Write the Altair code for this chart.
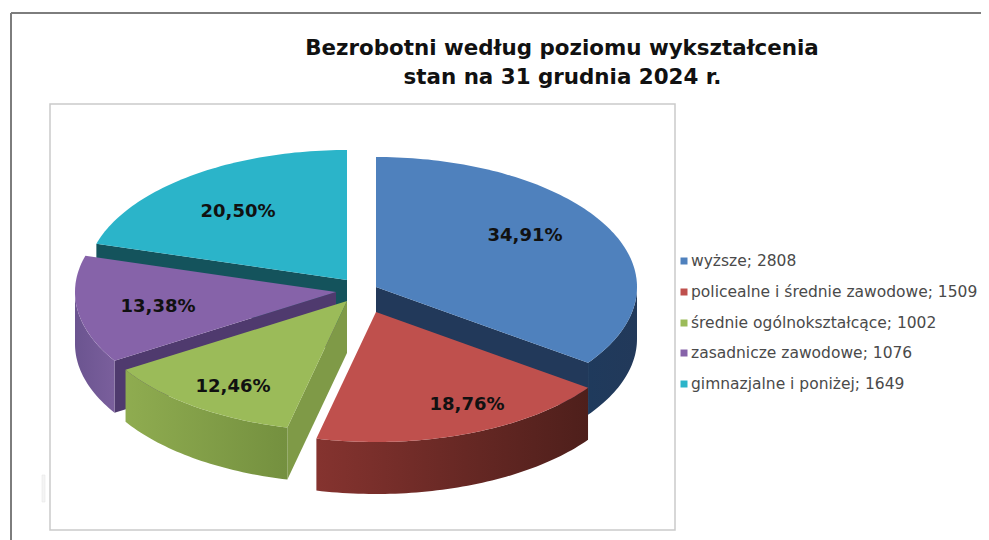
import math
import altair as alt
import pandas as pd

# --- data
categories = ["wyższe", "policealne i średnie zawodowe", "średnie ogólnokształcące",
              "zasadnicze zawodowe", "gimnazjalne i poniżej"]
values = [2808, 1509, 1002, 1076, 1649]

# --- styling / layout
top_colors = ["#4f81bd", "#bf504d", "#9bbb59", "#8663a9", "#2bb4c9"]
cut_colors = ["#22395a", "#5a2320", "#7f9a47", "#4f3a6e", "#14535c"]
wall_stops = [("#1f3a5c", "#22395a"), ("#85332f", "#4e1f1b"), ("#8fac50", "#74903f"),
              ("#6b5490", "#7a5f9c"), ("#1f8a9a", "#1f8a9a")]
cut_edge = [1, None, 0, 0, 0]   # which edge of the slice shows its cut face
centers = [(376, 287), (376, 312), (347, 301), (336, 292), (347, 280)]
label_pos = [(525, 236), (467, 405), (233, 387), (158, 307), (238, 212)]
draw_order = [4, 0, 3, 2, 1]
RX, RY, DEPTH = 261, 130, 52
W, H = 973, 532
xs = alt.Scale(domain=[8, 8 + W], nice=False, zero=False)
ys = alt.Scale(domain=[8, 8 + H], nice=False, zero=False, reverse=True)

X = lambda f="x": alt.X(f"{f}:Q", scale=xs, axis=None)
Y = lambda f="y": alt.Y(f"{f}:Q", scale=ys, axis=None)

total = sum(values)
bounds = [0.0]
for v in values:
    bounds.append(bounds[-1] + v / total * 2 * math.pi)


def rim(c, a):
    return (c[0] + RX * math.sin(a), c[1] - RY * math.cos(a))


def arc(c, a0, a1):
    n = max(2, int(abs(a1 - a0) / 0.02))
    return [rim(c, a0 + (a1 - a0) * k / n) for k in range(n + 1)]


def poly(pts, fill):
    pts = list(pts) + [pts[0]]
    df = pd.DataFrame({"x": [p[0] for p in pts], "y": [p[1] for p in pts], "i": range(len(pts))})
    return alt.Chart(df).mark_line(fill=fill, strokeWidth=0, strokeOpacity=0, interpolate="linear").encode(
        x=X(), y=Y(), order="i:Q")


def down(pts):
    return [(x, y + DEPTH) for x, y in pts]


layers = []
# outer frame
frame = pd.DataFrame({"x": [11, 11], "y": [13, 13], "x2": [981, 11], "y2": [13, 540]})
layers.append(alt.Chart(frame).mark_rule(color="#7d7d7d", strokeWidth=2).encode(
    x=X(), y=Y(), x2="x2:Q", y2="y2:Q"))
# inner frame
inner = pd.DataFrame({"x": [50], "y": [104], "x2": [675], "y2": [530]})
layers.append(alt.Chart(inner).mark_rect(fill="#ffffff", stroke="#cacaca", strokeWidth=1.5).encode(
    x=X(), y=Y(), x2="x2:Q", y2="y2:Q"))
smudge = pd.DataFrame({"x": [42], "y": [475], "x2": [45], "y2": [502]})
layers.append(alt.Chart(smudge).mark_rect(fill="#f4f4f4", stroke="#e8e8e8", strokeWidth=0.6).encode(
    x=X(), y=Y(), x2="x2:Q", y2="y2:Q"))

for s in draw_order:
    c = centers[s]
    a0, a1 = bounds[s], bounds[s + 1]
    # cut face of the slice, where it faces the viewer
    if cut_edge[s] is not None:
        e = rim(c, bounds[s + cut_edge[s]])
        layers.append(poly([c, e, (e[0], e[1] + DEPTH), (c[0], c[1] + DEPTH)], cut_colors[s]))
    # outer wall: part of the rim facing the viewer
    lo, hi = max(a0, math.pi / 2), min(a1, 3 * math.pi / 2)
    if hi > lo:
        pts = arc(c, lo, hi)
        grad = alt.LinearGradient(
            gradient="linear", x1=0, x2=1, y1=0, y2=0,
            stops=[alt.GradientStop(color=wall_stops[s][0], offset=0),
                   alt.GradientStop(color=wall_stops[s][1], offset=1)])
        layers.append(poly(pts + down(pts)[::-1], grad))
    # top face
    layers.append(poly([c] + arc(c, a0, a1), top_colors[s]))

# percentage labels
pct = [f"{v / total * 100:.2f}".replace(".", ",") + "%" for v in values]
labels = pd.DataFrame({"x": [p[0] for p in label_pos], "y": [p[1] for p in label_pos], "t": pct})
layers.append(alt.Chart(labels).mark_text(font="DejaVu Sans", fontWeight="bold", fontSize=18,
                                          color="#111111", align="center", baseline="middle").encode(
    x=X(), y=Y(), text="t:N"))

# title
title_lines = ["Bezrobotni według poziomu wykształcenia", "stan na 31 grudnia 2024 r."]
title = pd.DataFrame({"x": [562, 562.5], "y": [49, 78], "t": title_lines})
layers.append(alt.Chart(title).mark_text(font="DejaVu Sans", fontWeight="bold", fontSize=21.4,
                                         color="#111111", align="center", baseline="middle").encode(
    x=X(), y=Y(), text="t:N"))

# legend
leg_y = [261, 292, 323, 353, 384]
leg = pd.DataFrame({"x": [691] * 5, "sx": [684] * 5, "y": leg_y,
                    "t": [f"{c}; {v}" for c, v in zip(categories, values)],
                    "col": top_colors})
layers.append(alt.Chart(leg).mark_square(size=49, opacity=1).encode(
    x=X("sx"), y=Y(), color=alt.Color("col:N", scale=None, legend=None)))
layers.append(alt.Chart(leg).mark_text(font="DejaVu Sans", fontSize=15.5, color="#4a4a4a",
                                       align="left", baseline="middle").encode(
    x=X(), y=Y(), text="t:N"))

chart = alt.layer(*layers).properties(
    width=W, height=H, padding=0, autosize=alt.AutoSizeParams(type="none")
).configure_view(stroke=None)

chart.save("out.html", embed_options={"renderer": "svg", "actions": False})
